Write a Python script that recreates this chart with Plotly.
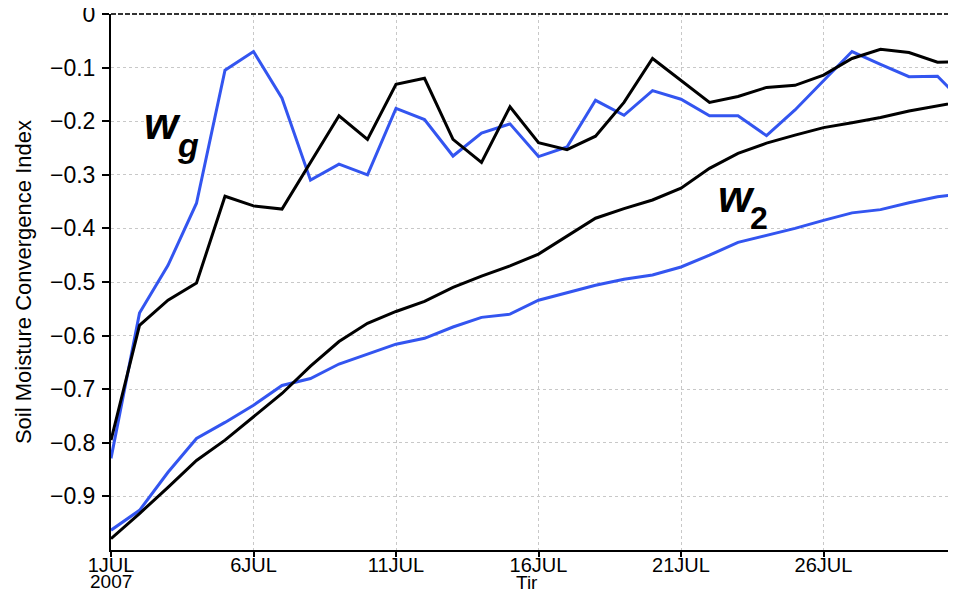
import plotly.graph_objects as go
import pandas as pd

days = pd.date_range("2007-07-01", periods=31, freq="D")

wg_black = [-0.795, -0.581, -0.534, -0.502, -0.340, -0.358, -0.364, -0.276, -0.190, -0.234,
            -0.131, -0.120, -0.234, -0.277, -0.173, -0.240, -0.253, -0.228, -0.165, -0.083,
            -0.124, -0.165, -0.154, -0.137, -0.133, -0.114, -0.083, -0.066, -0.072, -0.090, -0.089]
wg_blue = [-0.829, -0.558, -0.469, -0.353, -0.105, -0.070, -0.157, -0.310, -0.280, -0.300,
           -0.176, -0.197, -0.265, -0.222, -0.205, -0.266, -0.248, -0.161, -0.189, -0.143,
           -0.159, -0.190, -0.190, -0.227, -0.179, -0.125, -0.070, -0.094, -0.117, -0.116, -0.170]
w2_black = [-0.979, -0.932, -0.883, -0.833, -0.795, -0.752, -0.708, -0.657, -0.611, -0.577,
            -0.555, -0.536, -0.510, -0.489, -0.470, -0.448, -0.415, -0.381, -0.363, -0.347,
            -0.325, -0.288, -0.260, -0.241, -0.226, -0.212, -0.203, -0.193, -0.181, -0.172, -0.162]
w2_blue = [-0.963, -0.926, -0.855, -0.792, -0.762, -0.730, -0.693, -0.680, -0.653, -0.635,
           -0.616, -0.605, -0.584, -0.566, -0.560, -0.534, -0.520, -0.506, -0.495, -0.487,
           -0.472, -0.450, -0.426, -0.413, -0.400, -0.385, -0.371, -0.365, -0.352, -0.341, -0.334]

x_tickvals = ["2007-07-01", "2007-07-06", "2007-07-11", "2007-07-16", "2007-07-21", "2007-07-26"]
x_ticktext = ["1JUL", "6JUL", "11JUL", "16JUL", "21JUL", "26JUL"]
y_tickvals = [0, -0.1, -0.2, -0.3, -0.4, -0.5, -0.6, -0.7, -0.8, -0.9]
y_ticktext = ["0", "\u22120.1", "\u22120.2", "\u22120.3", "\u22120.4", "\u22120.5",
              "\u22120.6", "\u22120.7", "\u22120.8", "\u22120.9"]

BLUE = "#3355f0"
BLACK = "#000000"
FONT = "Liberation Sans, Arial, sans-serif"

fig = go.Figure()
for ys, col in [(w2_blue, BLUE), (wg_blue, BLUE), (w2_black, BLACK), (wg_black, BLACK)]:
    fig.add_trace(go.Scatter(x=days, y=ys, mode="lines",
                             line=dict(color=col, width=3), showlegend=False,
                             hoverinfo="skip"))

# the page body adds an 8px margin; size the figure so the plot lands where the reference has it
fig.update_layout(
    width=940, height=583,
    margin=dict(l=103, r=0, t=6, b=41),
    paper_bgcolor="white", plot_bgcolor="white",
    font=dict(family=FONT, color="black"),
    xaxis=dict(range=["2007-07-01", "2007-07-30 08:50"], automargin=False,
               tickvals=x_tickvals, ticktext=x_ticktext,
               tickfont=dict(size=20, family=FONT),
               showgrid=True, gridcolor="#c8c8c8", griddash="dot", gridwidth=1,
               showline=True, linecolor="black", linewidth=2,
               ticks="outside", ticklen=5, tickwidth=2, tickcolor="black",
               ticklabelstandoff=-9, ticklabeloverflow="allow",
               zeroline=False),
    yaxis=dict(range=[-1.0, 0.0], automargin=False,
               tickvals=y_tickvals, ticktext=y_ticktext,
               tickfont=dict(size=23, family=FONT),
               showgrid=True, gridcolor="#c8c8c8", griddash="dot", gridwidth=1,
               showline=True, linecolor="black", linewidth=2,
               ticks="outside", ticklen=7, tickwidth=2, tickcolor="black",
               ticklabelstandoff=2, ticklabeloverflow="allow",
               zeroline=False),
)

# dashed top frame
fig.add_shape(type="line", xref="paper", yref="paper", x0=0, x1=1, y0=1, y1=1,
              line=dict(color="#333333", width=2, dash="5px,2px"))

# year under first tick
fig.add_annotation(x="2007-07-01", y=0, xref="x", yref="paper", yanchor="top",
                   yshift=-19, text="2007", showarrow=False,
                   font=dict(size=19, family=FONT))
# x title
fig.add_annotation(x=0.4966, y=0, xref="paper", yref="paper", yanchor="top",
                   yshift=-20, text="Tir", showarrow=False,
                   font=dict(size=19, family=FONT))
# y title
fig.add_annotation(x=-0.105, y=0.5, xref="paper", yref="paper",
                   xanchor="center", yanchor="middle",
                   text="Soil Moisture Convergence Index", textangle=-90,
                   showarrow=False, font=dict(size=22, family=FONT))

# curve labels
fig.add_annotation(x="2007-07-02 19:00", y=-0.205, xref="x", yref="y",
                   text="<b><i>w</i></b>", showarrow=False,
                   font=dict(size=44, family=FONT))
fig.add_annotation(x="2007-07-03 17:00", y=-0.245, xref="x", yref="y",
                   text="<b><i>g</i></b>", showarrow=False,
                   font=dict(size=34, family=FONT))
fig.add_annotation(x="2007-07-22 23:00", y=-0.340, xref="x", yref="y",
                   text="<b><i>w</i></b>", showarrow=False,
                   font=dict(size=44, family=FONT))
fig.add_annotation(x="2007-07-23 18:00", y=-0.380, xref="x", yref="y",
                   text="<b>2</b>", showarrow=False,
                   font=dict(size=32, family=FONT))

fig.write_html("out.html")
